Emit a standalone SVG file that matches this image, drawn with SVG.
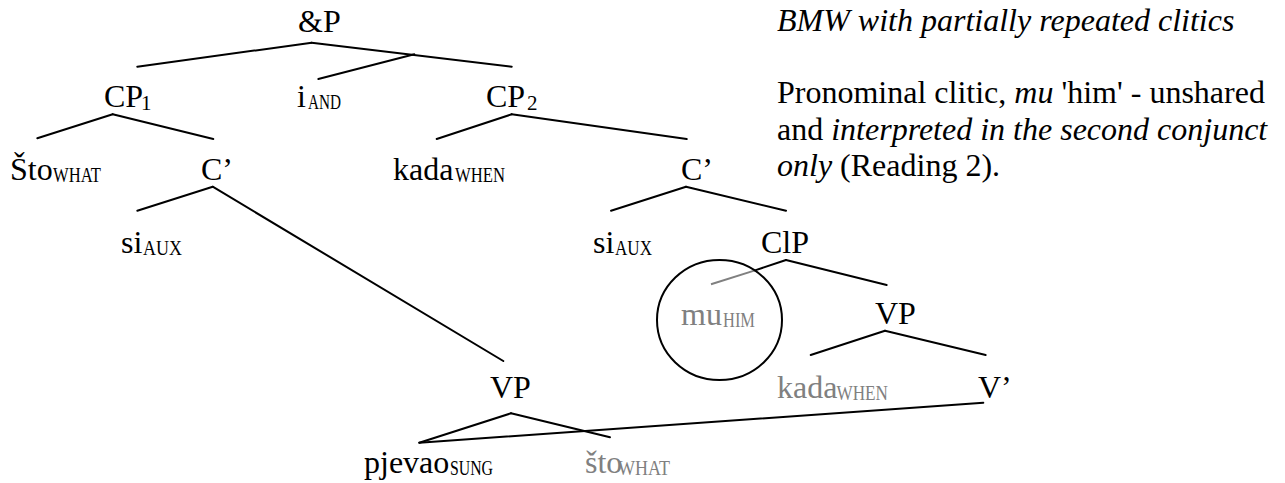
<svg xmlns="http://www.w3.org/2000/svg" width="1285" height="483" viewBox="0 0 1285 483">
  <style>
    text { font-family: "Liberation Serif", "Times New Roman", serif; fill: #000; }
    .lab { font-size: 32px; }
    .sub { font-size: 22px; }
    .dig { font-size: 21px; }
    .gray { fill: #808080; }
    .note { font-size: 32px; }
    .it { font-style: italic; }
    .edge { stroke: #000; stroke-width: 2; fill: none; stroke-linecap: round; }
    .edge-gray { stroke: #808080; stroke-width: 2; fill: none; }
  </style>

  <rect width="1285" height="483" fill="#fff"/>

  <!-- branches of the tree -->
  <g id="connectors">
    <!-- &P -->
    <line class="edge" x1="311.7" y1="42.7" x2="137.3" y2="66.7"/>
    <line class="edge" x1="311.7" y1="42.7" x2="511.7" y2="66.7"/>
    <line class="edge" x1="414.3" y1="54.3" x2="318.3" y2="79"/>
    <!-- CP1 -->
    <line class="edge" x1="112.7" y1="114.3" x2="37.3" y2="138.3"/>
    <line class="edge" x1="112.7" y1="114.3" x2="213.3" y2="139"/>
    <!-- CP2 -->
    <line class="edge" x1="511.7" y1="114.3" x2="436.7" y2="139"/>
    <line class="edge" x1="511.7" y1="114.3" x2="686.7" y2="139"/>
    <!-- C' of the first conjunct -->
    <line class="edge" x1="212.7" y1="186.7" x2="137.3" y2="210.7"/>
    <line class="edge" x1="212.7" y1="186.7" x2="503.3" y2="361"/>
    <!-- C' of the second conjunct -->
    <line class="edge" x1="686" y1="186.7" x2="611" y2="210.7"/>
    <line class="edge" x1="686" y1="186.7" x2="786" y2="210.7"/>
    <!-- ClP -->
    <line class="edge" x1="786" y1="260" x2="755" y2="270.4"/>
    <line class="edge-gray" x1="755" y1="270.4" x2="711" y2="284.3"/>
    <line class="edge" x1="786" y1="260" x2="886.7" y2="285"/>
    <!-- upper VP -->
    <line class="edge" x1="885" y1="330.7" x2="810.7" y2="355"/>
    <line class="edge" x1="885" y1="330.7" x2="985.7" y2="355"/>
    <!-- lower VP -->
    <line class="edge" x1="511" y1="413.3" x2="419.3" y2="442.7"/>
    <line class="edge" x1="511" y1="413.3" x2="610" y2="437.3"/>
    <!-- V' down to the shared verb -->
    <line class="edge" x1="983.3" y1="402.7" x2="419.3" y2="442.7"/>
    <!-- ring round the clitic -->
    <ellipse class="edge" cx="719.5" cy="320" rx="62.5" ry="60"/>
  </g>

  <g id="andP"><text class="lab" x="298" y="32">&amp;P</text></g>

  <g id="cp1">
    <text class="lab" x="104" y="107">CP</text>
    <text class="dig" x="141" y="110">1</text>
  </g>
  <g id="iAnd">
    <text class="lab" x="297" y="107">i</text>
    <text class="sub" x="308" y="109" textLength="33" lengthAdjust="spacingAndGlyphs">AND</text>
  </g>
  <g id="cp2">
    <text class="lab" x="486" y="107">CP</text>
    <text class="dig" x="527" y="110">2</text>
  </g>

  <g id="sto1">
    <text class="lab" x="10" y="180">Što</text>
    <text class="sub" x="53" y="182" textLength="48" lengthAdjust="spacingAndGlyphs">WHAT</text>
  </g>
  <g id="cbar1"><text class="lab" x="201" y="180">C’</text></g>
  <g id="kada1">
    <text class="lab" x="393" y="180">kada</text>
    <text class="sub" x="455" y="182" textLength="50" lengthAdjust="spacingAndGlyphs">WHEN</text>
  </g>
  <g id="cbar2"><text class="lab" x="681" y="180">C’</text></g>

  <g id="si1">
    <text class="lab" x="121" y="253">si</text>
    <text class="sub" x="143" y="255" textLength="39" lengthAdjust="spacingAndGlyphs">AUX</text>
  </g>
  <g id="si2">
    <text class="lab" x="593" y="253">si</text>
    <text class="sub" x="615" y="255" textLength="37" lengthAdjust="spacingAndGlyphs">AUX</text>
  </g>
  <g id="clP"><text class="lab" x="761" y="253">ClP</text></g>

  <g id="mu">
    <text class="lab gray" x="681" y="325">mu</text>
    <text class="sub gray" x="723" y="327" textLength="32" lengthAdjust="spacingAndGlyphs">HIM</text>
  </g>
  <g id="vp2"><text class="lab" x="875" y="324">VP</text></g>

  <g id="vp1"><text class="lab" x="490" y="398">VP</text></g>
  <g id="kada2">
    <text class="lab gray" x="777" y="398">kada</text>
    <text class="sub gray" x="836.5" y="400" textLength="51.5" lengthAdjust="spacingAndGlyphs">WHEN</text>
  </g>
  <g id="vbar"><text class="lab" x="978" y="398">V’</text></g>

  <g id="pjevao">
    <text class="lab" x="364" y="473">pjevao</text>
    <text class="sub" x="450" y="475" textLength="43" lengthAdjust="spacingAndGlyphs">SUNG</text>
  </g>
  <g id="sto2">
    <text class="lab gray" x="585" y="473">što</text>
    <text class="sub gray" x="618" y="475" textLength="52" lengthAdjust="spacingAndGlyphs">WHAT</text>
  </g>

  <!-- caption -->
  <g id="caption">
    <text class="note it" x="777" y="31">BMW with partially repeated clitics</text>
    <text class="note" x="777" y="102.5">Pronominal clitic, <tspan class="it">mu</tspan> 'him' - unshared</text>
    <text class="note" x="777" y="140">and <tspan class="it">interpreted in the second conjunct</tspan></text>
    <text class="note" x="777" y="176"><tspan class="it">only</tspan> (Reading 2).</text>
  </g>
</svg>
